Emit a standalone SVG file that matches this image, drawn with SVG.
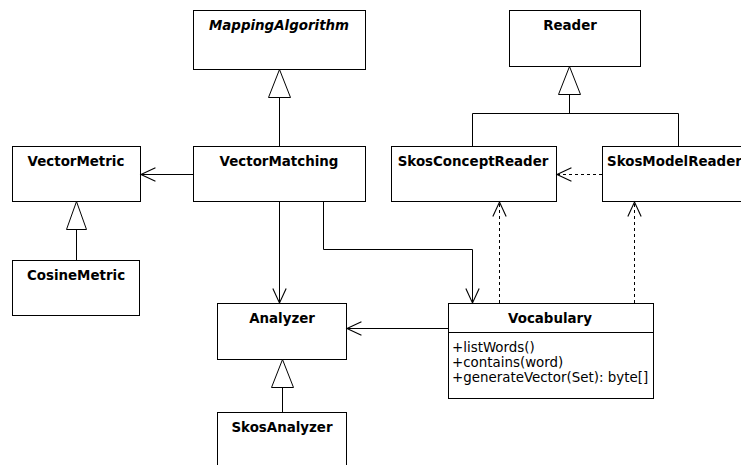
<svg xmlns="http://www.w3.org/2000/svg" width="741" height="465" viewBox="0 0 741 465">
  <style>
    .box { fill: #fff; stroke: #000; stroke-width: 1; }
    .name { font-family: "DejaVu Sans", Verdana, sans-serif; font-size: 13.4px; font-weight: bold; text-anchor: middle; fill: #000; }
    .abstract { font-style: italic; }
    .op { font-family: "DejaVu Sans", Verdana, sans-serif; font-size: 13.4px; fill: #000; }
    .edge { fill: none; stroke: #000; stroke-width: 1; }
    .dep { stroke-dasharray: 3 3; }
    .gen { fill: #fff; stroke: #000; stroke-width: 1; }
  </style>
  <defs>
    <marker id="open" markerUnits="userSpaceOnUse" markerWidth="20" markerHeight="20" viewBox="-16 -8 18 16" refX="0" refY="0" orient="auto">
      <path d="M -13 -6 L 0 0 L -13 6" fill="none" stroke="#000" stroke-width="1"/>
    </marker>
  </defs>

  <!-- classes -->
  <g id="MappingAlgorithm">
    <rect class="box" x="193.5" y="10.5" width="172" height="59"/>
    <text class="name abstract" x="279" y="30">MappingAlgorithm</text>
  </g>
  <g id="Reader">
    <rect class="box" x="509.5" y="10.5" width="131" height="56"/>
    <text class="name" x="570" y="30">Reader</text>
  </g>
  <g id="VectorMetric">
    <rect class="box" x="12.5" y="146.5" width="128" height="55"/>
    <text class="name" x="76" y="166">VectorMetric</text>
  </g>
  <g id="VectorMatching">
    <rect class="box" x="193.5" y="146.5" width="172" height="55"/>
    <text class="name" x="279" y="166">VectorMatching</text>
  </g>
  <g id="SkosConceptReader">
    <rect class="box" x="391.5" y="146.5" width="165" height="55"/>
    <text class="name" x="473" y="166">SkosConceptReader</text>
  </g>
  <g id="SkosModelReader">
    <rect class="box" x="602.5" y="146.5" width="160" height="55"/>
    <text class="name" x="607" y="166" style="text-anchor:start">SkosModelReader</text>
  </g>
  <g id="CosineMetric">
    <rect class="box" x="12.5" y="260.5" width="127" height="55"/>
    <text class="name" x="76" y="280">CosineMetric</text>
  </g>
  <g id="Analyzer">
    <rect class="box" x="217.5" y="303.5" width="129" height="56"/>
    <text class="name" x="282" y="323">Analyzer</text>
  </g>
  <g id="SkosAnalyzer">
    <rect class="box" x="217.5" y="412.5" width="129" height="60"/>
    <text class="name" x="282" y="432">SkosAnalyzer</text>
  </g>
  <g id="Vocabulary">
    <rect class="box" x="448.5" y="303.5" width="205" height="95"/>
    <line class="edge" x1="448.5" y1="332.5" x2="653.5" y2="332.5"/>
    <text class="name" x="550" y="323">Vocabulary</text>
    <text class="op" x="452" y="352">+listWords()</text>
    <text class="op" x="452" y="367">+contains(word)</text>
    <text class="op" x="452" y="382">+generateVector(Set): byte[]</text>
  </g>

  <!-- relationships -->
  <g id="connectors">
    <!-- generalizations -->
    <path class="edge" d="M279.5 146 V97.5"/>
    <polygon class="gen" points="279.5,69.5 268.5,97.5 290.5,97.5"/>

    <path class="edge" d="M569.5 94.5 V113.5 M472.5 146 V113.5 H678.5 V146"/>
    <polygon class="gen" points="569.5,66.5 558.5,94.5 580.5,94.5"/>

    <path class="edge" d="M76.5 260 V229.5"/>
    <polygon class="gen" points="76.5,201.5 66.5,229.5 86.5,229.5"/>

    <path class="edge" d="M282.5 412 V387.5"/>
    <polygon class="gen" points="282.5,359.5 271.5,387.5 293.5,387.5"/>

    <!-- associations -->
    <path class="edge" d="M193 174.5 H141" marker-end="url(#open)"/>
    <path class="edge" d="M279.5 202 V303" marker-end="url(#open)"/>
    <path class="edge" d="M323.5 202 V249.5 H472.5 V303" marker-end="url(#open)"/>
    <path class="edge" d="M448 328.5 H347" marker-end="url(#open)"/>

    <!-- dependencies -->
    <path class="edge dep" d="M602 174.5 H557" marker-end="url(#open)"/>
    <path class="edge dep" d="M499.5 303 V202" marker-end="url(#open)"/>
    <path class="edge dep" d="M634.5 303 V202" marker-end="url(#open)"/>
  </g>
</svg>
